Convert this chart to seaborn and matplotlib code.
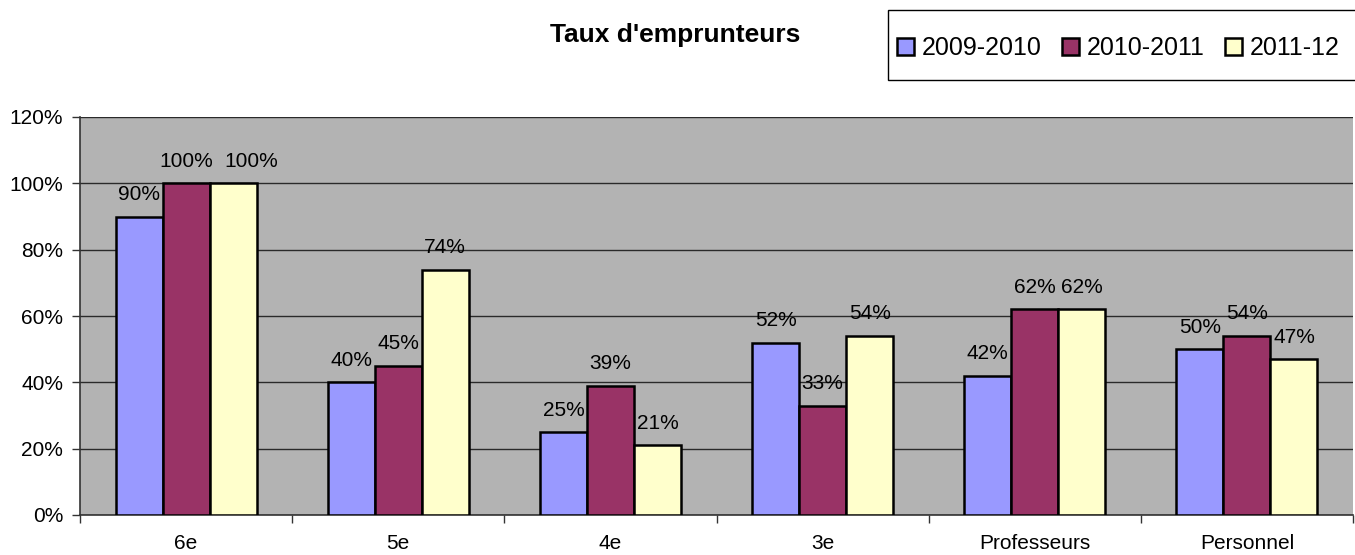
import matplotlib
matplotlib.use("Agg")
import matplotlib.pyplot as plt
import seaborn as sns
import pandas as pd
from matplotlib.ticker import FuncFormatter, FixedLocator
from matplotlib.patches import Patch, Rectangle

categories = ["6e", "5e", "4e", "3e", "Professeurs", "Personnel"]
series = ["2009-2010", "2010-2011", "2011-12"]
v2009 = [90, 40, 25, 52, 42, 50]
v2010 = [100, 45, 39, 33, 62, 54]
v2011 = [100, 74, 21, 54, 62, 47]
colors = ["#9999FF", "#993366", "#FFFFCC"]

rows = []
for s, vals in zip(series, [v2009, v2010, v2011]):
    for c, v in zip(categories, vals):
        rows.append({"cat": c, "serie": s, "val": v})
df = pd.DataFrame(rows)

sns.set_theme(style="white")
plt.rcParams["font.family"] = ["Liberation Sans", "DejaVu Sans"]
plt.rcParams["text.color"] = "black"
plt.rcParams["xtick.color"] = "black"
plt.rcParams["ytick.color"] = "black"

fig = plt.figure(figsize=(13.55, 5.55), dpi=100)
ax = fig.add_axes([80 / 1355, 40 / 555, 1273 / 1355, 398 / 555])
ax.set_facecolor("#B3B3B3")

sns.barplot(data=df, x="cat", y="val", hue="serie", order=categories,
            hue_order=series, palette=colors, saturation=1, width=0.665,
            edgecolor="black", linewidth=1.8, ax=ax, legend=False, zorder=3)

pad = 9
for k, cont in enumerate(ax.containers):
    anns = ax.bar_label(cont, labels=[f"{int(round(b.get_height()))}%" for b in cont],
                        padding=pad, fontsize=15, color="black")
    if k == 2:
        # Excel shifted this label right to avoid overlapping its neighbour
        anns[0].xyann = (13, pad)

ax.set_ylim(0, 120)
ax.set_xlim(-0.5, 5.5)
ax.set_yticks(range(0, 121, 20))
ax.yaxis.set_major_formatter(FuncFormatter(lambda v, p: f"{int(v)}%"))
ax.grid(axis="y", color="#2a2a2a", linewidth=1.0, zorder=0)
ax.set_axisbelow(True)
ax.set_xlabel("")
ax.set_ylabel("")

ax.tick_params(axis="x", which="major", length=0, pad=14, labelsize=15, labelcolor="black")
ax.xaxis.set_minor_locator(FixedLocator([i - 0.5 for i in range(7)]))
ax.tick_params(axis="x", which="minor", length=6, width=1, color="#333333", direction="out", bottom=True)
ax.tick_params(axis="y", length=6, width=1, color="#333333", direction="out", left=True,
               labelsize=15, pad=6, labelcolor="black")

for s in ["top", "right"]:
    ax.spines[s].set_visible(False)
for s in ["left", "bottom"]:
    ax.spines[s].set_color("#333333")
    ax.spines[s].set_linewidth(1.2)

fig.text(675 / 1355, 1 - 35 / 555, "Taux d'emprunteurs", ha="center", va="center",
         fontsize=19, fontweight="bold", color="black")

# legend box
fig.patches.append(Rectangle((888 / 1355, 1 - 80 / 555), 480 / 1355, 70 / 555,
                             transform=fig.transFigure, facecolor="white",
                             edgecolor="black", linewidth=1.0))
handles = [Patch(facecolor=c, edgecolor="black", linewidth=1.8) for c in colors]
leg = fig.legend(handles, series, loc="center left",
                 bbox_to_anchor=(897 / 1355, 1 - 48 / 555),
                 ncol=3, frameon=False, fontsize=18, handlelength=0.68, handleheight=0.68,
                 handletextpad=0.32, columnspacing=0.8, borderpad=0, borderaxespad=0)
for t in leg.get_texts():
    t.set_color("black")

fig.savefig("out.png", dpi=100)
